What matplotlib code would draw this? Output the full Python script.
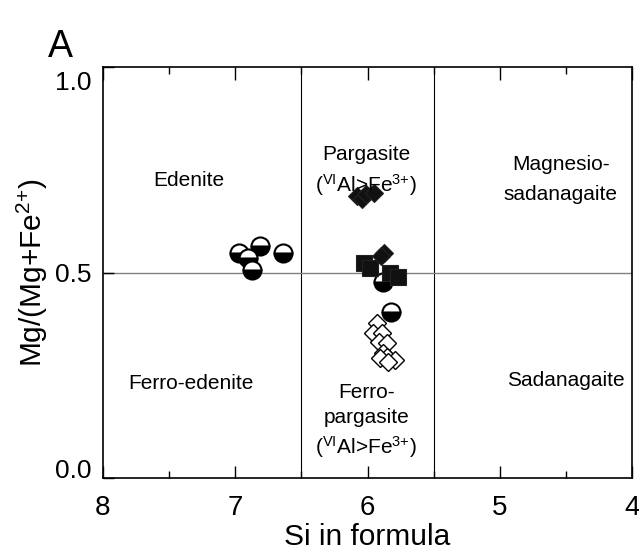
import numpy as np
import matplotlib
matplotlib.use('Agg')
import matplotlib.pyplot as plt
import matplotlib.transforms as mtransforms

# fonts (Arial-like)
plt.rcParams['font.family'] = ['Liberation Sans', 'DejaVu Sans']
plt.rcParams['mathtext.fontset'] = 'custom'
plt.rcParams['mathtext.rm'] = 'Liberation Sans'
plt.rcParams['mathtext.it'] = 'Liberation Sans:italic'
plt.rcParams['mathtext.bf'] = 'Liberation Sans:bold'

# data
# half filled circles (top white, bottom black)
circ_si = [6.97, 6.90, 6.81, 6.64, 6.87, 5.88, 5.82]
circ_mg = [0.547, 0.535, 0.565, 0.547, 0.506, 0.478, 0.405]

# filled squares
sq_si = [6.03, 5.98, 5.83, 5.77]
sq_mg = [0.523, 0.511, 0.499, 0.489]

# filled diamonds
fd_si = [6.08, 6.04, 6.01, 5.95, 5.875, 5.90]
fd_mg = [0.686, 0.680, 0.691, 0.693, 0.548, 0.540]

# open diamonds
od_si = [5.93, 5.96, 5.89, 5.91, 5.855, 5.88, 5.855, 5.79, 5.905, 5.843]
od_mg = [0.376, 0.352, 0.352, 0.332, 0.328, 0.303, 0.295, 0.287, 0.291, 0.283]

# classification fields
si_bounds = [6.5, 5.5]
mg_bound = 0.5
vi_al = '(${}^{\\mathrm{VI}}$Al>Fe$^{3{+}}$)'
field_lines = ['Edenite', 'Pargasite', vi_al, 'Magnesio-', 'sadanagaite',
               'Ferro-edenite', 'Ferro-', 'pargasite', vi_al, 'Sadanagaite']
field_x = [7.35, 6.01, 6.01, 4.54, 4.54, 7.335, 6.01, 6.01, 6.01, 4.50]
field_y = [0.723, 0.788, 0.713, 0.762, 0.689, 0.231, 0.209, 0.146, 0.075, 0.238]

xticks = [8, 7, 6, 5, 4]
yticks = [0.0, 0.5, 1.0]
ytick_labels = ['0.0', '0.5', '1.0']

fig = plt.figure(figsize=(6.39, 5.5), dpi=100)
ax = fig.add_axes([103/639, 72/550, 529/639, 411/550])

# field boundaries
for s in si_bounds:
    ax.axvline(s, color='black', lw=0.8, zorder=1)
ax.axhline(mg_bound, color='#808080', lw=1.0, zorder=1)

# points
ax.plot(circ_si, circ_mg, 'o', ms=13, fillstyle='bottom', markerfacecolor='black',
        markerfacecoloralt='white', markeredgecolor='black', mew=1.5, zorder=2)
ax.plot(sq_si, sq_mg, 's', ms=12, color='#111111', mec='#222222', mew=0.8, zorder=3)
ax.plot(fd_si, fd_mg, 'D', ms=9, color='#111111', mec='#222222', mew=0.8, zorder=3)
ax.plot(od_si, od_mg, 'D', ms=9, markerfacecolor='white', markeredgecolor='black', mew=1.0, zorder=3)

# field labels
for name, x, y in zip(field_lines, field_x, field_y):
    ax.text(x, y, name, ha='center', va='center', fontsize=15)

ax.set_xlim(8, 4)
ax.set_ylim(0, 1)
ax.set_xticks(xticks)
ax.set_xticks([7.5, 6.5, 5.5, 4.5], minor=True)
ax.set_yticks(yticks)
ax.set_yticklabels(ytick_labels)
ax.tick_params(axis='x', which='major', direction='in', length=9, width=1.0,
               labelsize=20, pad=12, top=True)
ax.tick_params(axis='x', which='minor', direction='in', length=5, width=1.0, top=True)
ax.tick_params(axis='y', direction='in', length=8, width=1.0, labelsize=19, pad=8)

# the 0.0 and 1.0 labels sit a bit inside the frame in the original
offsets = [10/100, 0, -13/100]
for lab, dy in zip(ax.get_yticklabels(), offsets):
    lab.set_transform(lab.get_transform() + mtransforms.ScaledTranslation(0, dy, fig.dpi_scale_trans))

for sp in ax.spines.values():
    sp.set_linewidth(1.2)

ax.set_xlabel('Si in formula', fontsize=21.5, labelpad=2)
ax.set_ylabel('Mg/(Mg+Fe$^{2{+}}$)', fontsize=21.5, labelpad=4)

fig.text(60/639, 1 - 47/550, 'A', fontsize=27, ha='center', va='center')

fig.savefig('out.png', dpi=100)
